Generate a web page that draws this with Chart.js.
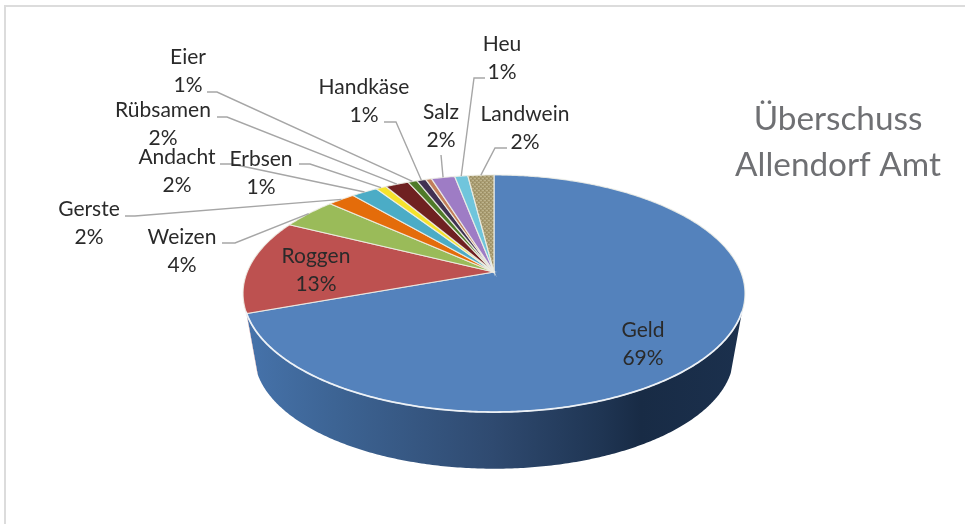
<!DOCTYPE html>
<html lang="de">
<head>
<meta charset="utf-8">
<title>Überschuss Allendorf Amt</title>
<script src="https://cdn.jsdelivr.net/npm/chart.js@4/dist/chart.umd.min.js"></script>
<style>
  html, body { margin: 0; padding: 0; background: #fff; }
  canvas { display: block; }
</style>
</head>
<body>
<canvas id="surplus-chart" width="965" height="524"></canvas>
<script>
// Chart data (share in percent, clockwise from 12 o'clock)
const categories = ['Geld', 'Roggen', 'Weizen', 'Gerste', 'Andacht', 'Erbsen', 'Rübsamen', 'Eier', 'Handkäse', '', 'Salz', 'Heu', 'Landwein'];
const shares = [69.45, 12.85, 4.3, 2.1, 2, 0.8, 1.8, 0.7, 0.7, 0.45, 1.8, 1, 2];
const sliceColors = ['#5482bc', '#bd5150', '#9abb59', '#e46c0a', '#4bacc6', '#f5e32c', '#6f2121', '#4f7a28', '#403152', '#c27e5a', '#9e7cc5', '#70c5dc', '#a79a6f'];
const titleLines = ['Überschuss', 'Allendorf Amt'];

// Label placement by category: text centre, first line y, and the outer part of the leader line
const labelLayout = {
    'Geld': { x: 643, y: 330 },
    'Roggen': { x: 316, y: 256 },
    'Weizen': { x: 182, y: 237, leader: [[222, 243], [235, 243]] },
    'Gerste': { x: 89, y: 209, leader: [[125, 216], [135, 216]] },
    'Andacht': { x: 177, y: 157, leader: [[220, 164], [232, 164]] },
    'Erbsen': { x: 261, y: 159, leader: [[299, 164], [310, 164]] },
    'Rübsamen': { x: 163, y: 110, leader: [[217, 117], [227, 117]] },
    'Eier': { x: 188, y: 57, leader: [[207, 92], [217, 92]] },
    'Handkäse': { x: 364, y: 87, leader: [[384, 122], [396, 122]] },
    'Salz': { x: 441, y: 112, leader: [[441, 155]] },
    'Heu': { x: 502, y: 44, leader: [[485, 78], [474, 78]] },
    'Landwein': { x: 525, y: 114, leader: [[507, 148], [495, 148]] }
};

// Perspective of the tilted disc: maps the unit circle to the ellipse on screen
const DISC = { cx: 494, apexY: 272, k: 246.8, a: 65.3, c: -0.1814 };
const SIDE = { scale: 0.955, centerY: 294, drop: 62, from: 109 * Math.PI / 180, to: 251 * Math.PI / 180 };
const FONT = 'Lato, "Open Sans", sans-serif';

/**
 * Screen position of a point on the top face (theta clockwise from 12 o'clock)
 */
function facePoint(theta) {
    const x = Math.sin(theta);
    const y = -Math.cos(theta);
    const w = 1 + DISC.c * y;
    return [DISC.cx + DISC.k * x / w, (DISC.a * y + DISC.apexY) / w];
}

/**
 * Same rim point, on the bottom of the disc
 */
function basePoint(theta) {
    const p = facePoint(theta);
    return [
        DISC.cx + (p[0] - DISC.cx) * SIDE.scale,
        SIDE.centerY + (p[1] - SIDE.centerY) * SIDE.scale + SIDE.drop
    ];
}

// Arc angles from Chart.js start at 3 o'clock, the rim functions at 12 o'clock
function thetaOf(angle) {
    return angle + Math.PI / 2;
}

function traceRim(ctx, pointFn, from, to) {
    const steps = Math.max(2, Math.ceil(Math.abs(to - from) / 0.01));
    for (let i = 0; i <= steps; i++) {
        const p = pointFn(from + (to - from) * i / steps);
        ctx.lineTo(p[0], p[1]);
    }
}

/**
 * The dotted tan fill of the Landwein slice
 */
function makeWeavePattern(ctx) {
    const tile = document.createElement('canvas');
    tile.width = 4;
    tile.height = 4;
    const t = tile.getContext('2d');
    t.fillStyle = '#a89b70';
    t.fillRect(0, 0, 4, 4);
    t.fillStyle = '#bdb38c';
    t.fillRect(0, 0, 2, 1);
    t.fillRect(2, 2, 2, 1);
    t.fillStyle = '#978b62';
    t.fillRect(2, 0, 1, 1);
    t.fillRect(0, 2, 1, 1);
    return ctx.createPattern(tile, 'repeat');
}

function drawSide(ctx, arcs) {
    const shade = ctx.createLinearGradient(245, 0, 740, 0);
    shade.addColorStop(0, '#4673ab');
    shade.addColorStop(0.18, '#3d6494');
    shade.addColorStop(0.5, '#2f4a70');
    shade.addColorStop(0.72, '#1f3553');
    shade.addColorStop(0.8, '#182b45');
    shade.addColorStop(1, '#1b304d');

    arcs.forEach((arc, i) => {
        const from = Math.max(thetaOf(arc.startAngle), SIDE.from);
        const to = Math.min(thetaOf(arc.endAngle), SIDE.to);
        if (to <= from) {
            return;
        }
        ctx.beginPath();
        traceRim(ctx, facePoint, from, to);
        traceRim(ctx, basePoint, to, from);
        ctx.closePath();
        ctx.fillStyle = i === 0 ? shade : '#e9a9a5';
        ctx.fill();
    });
}

function drawFace(ctx, arcs, weave) {
    arcs.forEach((arc, i) => {
        const from = thetaOf(arc.startAngle);
        const to = thetaOf(arc.endAngle);
        ctx.beginPath();
        ctx.moveTo(DISC.cx, DISC.apexY);
        traceRim(ctx, facePoint, from, to);
        ctx.closePath();
        ctx.fillStyle = categories[i] === 'Landwein' ? weave : arc.options.backgroundColor;
        ctx.fill();
        ctx.strokeStyle = 'rgba(240, 240, 232, 0.85)';
        ctx.lineWidth = 1.2;
        ctx.stroke();
    });

    // Light edge where the face meets the side
    ctx.beginPath();
    traceRim(ctx, facePoint, SIDE.from, SIDE.to);
    ctx.strokeStyle = 'rgba(240, 244, 250, 0.9)';
    ctx.lineWidth = 1.8;
    ctx.stroke();
}

function drawLabels(ctx, arcs) {
    ctx.textAlign = 'center';
    ctx.textBaseline = 'middle';
    ctx.font = '21px ' + FONT;
    arcs.forEach((arc, i) => {
        const layout = labelLayout[categories[i]];
        if (!layout) {
            return;
        }
        ctx.fillStyle = '#2a2a2a';
        ctx.fillText(categories[i], layout.x, layout.y);
        ctx.fillText(Math.round(shares[i]) + '%', layout.x, layout.y + 28);
        if (layout.leader) {
            // The leader ends on the rim, in the middle of its slice
            const rim = facePoint(thetaOf((arc.startAngle + arc.endAngle) / 2));
            ctx.beginPath();
            layout.leader.forEach((p, n) => (n === 0 ? ctx.moveTo(p[0], p[1]) : ctx.lineTo(p[0], p[1])));
            ctx.lineTo(rim[0], rim[1]);
            ctx.strokeStyle = '#a6a6a6';
            ctx.lineWidth = 1.4;
            ctx.stroke();
        }
    });
}

function drawFrameAndTitle(ctx) {
    ctx.fillStyle = '#dcdcdc';
    ctx.fillRect(4, 5, 961, 2);
    ctx.fillRect(4, 5, 2, 519);

    ctx.fillStyle = '#6f7073';
    ctx.font = '33.3px ' + FONT;
    ctx.textAlign = 'center';
    ctx.textBaseline = 'middle';
    titleLines.forEach((line, i) => ctx.fillText(line, 838, 119 + i * 46));
}

// Chart.js has no 3D pie: this plugin paints the arcs it computed as a tilted disc
const tiltedPiePlugin = {
    id: 'tiltedPie',
    beforeDatasetsDraw(chart) {
        const ctx = chart.ctx;
        const arcs = chart.getDatasetMeta(0).data;
        ctx.save();
        drawFrameAndTitle(ctx);
        drawSide(ctx, arcs);
        drawFace(ctx, arcs, makeWeavePattern(ctx));
        drawLabels(ctx, arcs);
        ctx.restore();
        return false;
    }
};

new Chart(document.getElementById('surplus-chart').getContext('2d'), {
    type: 'pie',
    data: {
        labels: categories,
        datasets: [{
            data: shares,
            backgroundColor: sliceColors
        }]
    },
    options: {
        responsive: false,
        animation: false,
        plugins: {
            legend: { display: false },
            tooltip: { enabled: false }
        }
    },
    plugins: [tiltedPiePlugin]
});
</script>
</body>
</html>
